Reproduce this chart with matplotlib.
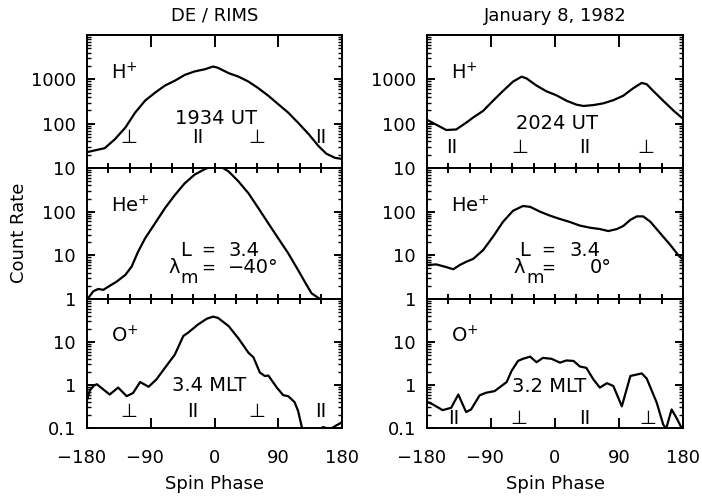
"""Spin phase distributions of H+, He+ and O+ count rates (DE / RIMS)"""

import numpy as np
import matplotlib
matplotlib.use("Agg")
import matplotlib.pyplot as plt
from matplotlib.ticker import LogLocator, NullFormatter

# H+ , 1934 UT
phase_h_l = [-179, -169, -155, -141, -126, -112, -98, -84, -70, -56, -42, -28, -13,
             -2, 5, 20, 34, 48, 62, 76, 90, 104, 118, 133, 147, 158, 170, 180]
rate_h_l = [23, 25, 28, 44, 81, 178, 331, 500, 724, 933, 1260, 1510, 1700,
            1950, 1820, 1380, 1150, 890, 630, 427, 275, 178, 105, 58, 31, 21, 17, 16]

# H+ , 2024 UT
phase_h_r = [-179, -167, -153, -139, -125, -115, -101, -87, -73, -59, -47, -40, -26,
             -12, 2, 16, 30, 40, 54, 68, 82, 96, 110, 122, 129, 138, 152, 167, 180]
rate_h_r = [120, 95, 72, 74, 105, 138, 195, 331, 550, 890, 1150, 1050, 724,
            537, 437, 331, 269, 251, 263, 288, 339, 427, 631, 832, 776, 550, 331, 195, 129]

# He+
phase_he_l = [-180, -177, -171, -164, -157, -150, -138, -126, -117, -108, -98, -84,
              -70, -56, -42, -28, -13, -6, 4, 10, 20, 34, 48, 62, 76, 90, 104, 118,
              130, 137, 147, 152, 165, 180]
rate_he_l = [1.0, 1.12, 1.51, 1.70, 1.62, 1.91, 2.51, 3.55, 5.5, 12, 24.5, 54,
             120, 240, 447, 708, 955, 1050, 1100, 1050, 832, 490, 263, 120, 54, 24.5,
             11.2, 4.6, 2.1, 1.35, 1.05, 0.98, 0.7, 0.6]

phase_he_r = [-179, -167, -155, -143, -134, -125, -115, -101, -87, -73, -59, -45, -35,
              -21, -7, 7, 21, 35, 49, 63, 75, 87, 96, 106, 115, 124, 134, 148, 162,
              174, 180]
rate_he_r = [6.0, 6.2, 5.5, 4.8, 6.0, 7.1, 8.3, 13.2, 27, 59, 105, 135, 129,
             100, 81, 68, 58, 48, 43, 40, 36, 40, 47, 65, 78, 78, 59, 32, 17.4,
             9.8, 8.1]

# O+
phase_o_l = [-180, -176, -170, -166, -157, -148, -136, -124, -115, -105, -93, -82,
             -70, -56, -44, -37, -23, -11, -2, 5, 20, 34, 48, 55, 64, 71, 76, 88,
             97, 104, 113, 118, 123, 125, 133, 140, 148, 153, 160, 166, 172, 178, 180]
rate_o_l = [0.45, 0.75, 0.98, 1.04, 0.79, 0.60, 0.87, 0.55, 0.65, 1.17, 0.91, 1.35,
            2.5, 5.1, 13.8, 16.6, 25.7, 34.7, 38.9, 36.3, 23.4, 12, 5.6, 4.4, 1.95,
            1.62, 1.66, 0.87, 0.58, 0.55, 0.40, 0.25, 0.11, 0.089, 0.07, 0.07, 0.09,
            0.105, 0.098, 0.1, 0.115, 0.13, 0.14]

phase_o_r = [-179, -172, -158, -146, -136, -125, -118, -106, -97, -85, -68, -61, -52,
             -45, -35, -26, -17, -5, 7, 16, 26, 35, 44, 54, 63, 73, 82, 94, 106, 122,
             129, 143, 152, 156, 164, 171, 178, 180]
rate_o_r = [0.40, 0.355, 0.26, 0.295, 0.60, 0.235, 0.27, 0.575, 0.66, 0.72, 1.17,
            2.14, 3.63, 4.07, 4.57, 3.39, 4.27, 4.07, 3.31, 3.72, 3.63, 2.69, 2.51,
            1.35, 0.87, 1.10, 0.95, 0.32, 1.62, 1.86, 1.41, 0.39, 0.123, 0.093, 0.27,
            0.17, 0.10, 0.09]

# pitch angle markers (perpendicular / parallel) along spin phase
pitch_phase_tl = [-121, -24, 60, 150]
pitch_sym_tl = ["⊥", "II", "⊥", "II"]
pitch_phase_bl = [-121, -31, 60, 150]
pitch_sym_bl = ["⊥", "II", "⊥", "II"]
pitch_phase_tr = [-145, -49, 42, 128]
pitch_sym_tr = ["II", "⊥", "II", "⊥"]
pitch_phase_br = [-142, -51, 42, 130]
pitch_sym_br = ["II", "⊥", "II", "⊥"]

ion_labels = ["H$^{+}$", "He$^{+}$", "O$^{+}$"]
ut_labels = ["1934 UT", "2024 UT"]
mlt_labels = ["3.4 MLT", "3.2 MLT"]
lat_values = ["\u221240°", "0°"]
column_titles = ["DE / RIMS", "January 8, 1982"]
ylims = [(10, 1e4), (1, 1e3), (0.1, 100)]
ytick_vals = [[10, 100, 1000, 10000], [1, 10, 100, 1000], [0.1, 1, 10, 100]]
ytick_text = [["10", "100", "1000", ""], ["1", "10", "100", ""], ["0.1", "1", "10", ""]]
xtick_vals = [-180, -90, 0, 90, 180]
xtick_text = ["\u2212180\u2007", "\u221290\u2007", "0", "90", "180"]

plt.rcParams["font.family"] = ["DejaVu Sans"]

fig = plt.figure(figsize=(7.02, 4.99), dpi=100)

col_left = [87 / 702, 427 / 702]
col_width = [255 / 702, 256 / 702]
row_bottom = [0.6633, 0.4008, 0.1423]
row_height = [0.2665, 0.2625, 0.2585]

curves = [
    [(phase_h_l, rate_h_l), (phase_he_l, rate_he_l), (phase_o_l, rate_o_l)],
    [(phase_h_r, rate_h_r), (phase_he_r, rate_he_r), (phase_o_r, rate_o_r)],
]
pitch = [
    [(pitch_phase_tl, pitch_sym_tl, 0.226), (pitch_phase_bl, pitch_sym_bl, 0.13)],
    [(pitch_phase_tr, pitch_sym_tr, 0.158), (pitch_phase_br, pitch_sym_br, 0.07)],
]

lw = 1.4
for c in range(2):
    for r in range(3):
        ax = fig.add_axes([col_left[c], row_bottom[r], col_width[c], row_height[r]])
        x, y = curves[c][r]
        ax.plot(x, y, color="black", linewidth=1.6)
        ax.set_yscale("log")
        ax.set_xlim(-180, 180)
        ax.set_ylim(*ylims[r])
        for sp in ax.spines.values():
            sp.set_linewidth(lw)

        ax.set_yticks(ytick_vals[r])
        ax.set_yticklabels(ytick_text[r])
        ax.yaxis.set_minor_locator(LogLocator(base=10, subs=np.arange(2, 10), numticks=20))
        ax.yaxis.set_minor_formatter(NullFormatter())
        ax.tick_params(axis="y", which="major", direction="in", left=True, right=True,
                       length=6, width=lw, labelsize=13, pad=8)
        ax.tick_params(axis="y", which="minor", direction="in", left=True, right=True,
                       length=3, width=1.0)

        if r == 0:
            ax.set_xticks(range(-180, 181, 30))
            ax.set_xticklabels([])
            ax.tick_params(axis="x", direction="inout", length=7, width=lw,
                           top=False, bottom=True)
            sec = ax.secondary_xaxis("top")
            sec.set_xticks([-90, 0, 90])
            sec.tick_params(direction="in", length=8.5, width=lw, labeltop=False)
            sec.spines["top"].set_linewidth(lw)
        elif r == 1:
            ax.set_xticks(range(-180, 181, 30))
            ax.set_xticklabels([])
            ax.tick_params(axis="x", direction="inout", length=7, width=lw,
                           top=True, bottom=True)
        else:
            ax.set_xticks(xtick_vals)
            ax.set_xticklabels(xtick_text)
            ax.tick_params(axis="x", direction="in", length=7.5, width=lw,
                           top=False, bottom=True, labelsize=13, pad=15)
            sec = ax.secondary_xaxis("top")
            sec.set_xticks(range(-180, 181, 30))
            sec.tick_params(direction="inout", length=7, width=lw, labeltop=False)
            sec.spines["top"].set_linewidth(lw)
            ax.set_xlabel("Spin Phase", fontsize=13, labelpad=6)

        ax.text(0.094, 0.715, ion_labels[r], transform=ax.transAxes, fontsize=14,
                ha="left", va="center")

        if r == 0:
            ax.text(0.508, 0.372 if c == 0 else 0.335, ut_labels[c],
                    transform=ax.transAxes, fontsize=14, ha="center", va="center")
        if r == 2:
            ax.text(0.477, 0.333 if c == 0 else 0.318, mlt_labels[c],
                    transform=ax.transAxes, fontsize=14, ha="center", va="center")
        if r in (0, 2):
            px, sym, yy = pitch[c][0 if r == 0 else 1]
            for p, s in zip(px, sym):
                ax.text(p, yy, s, transform=ax.get_xaxis_transform(), fontsize=14,
                        ha="center", va="center")
        if r == 1:
            if c == 0:
                xl, xe, xv, xlam, xm, xval = 0.365, 0.475, 0.553, 0.318, 0.365, 0.553
            else:
                xl, xe, xv, xlam, xm, xval = 0.36, 0.475, 0.555, 0.336, 0.39, 0.637
            tr = ax.transAxes
            ax.text(xl, 0.374, "L", transform=tr, fontsize=14, ha="left", va="center")
            ax.text(xe, 0.374, "=", transform=tr, fontsize=12, ha="center", va="center")
            ax.text(xv, 0.374, "3.4", transform=tr, fontsize=14, ha="left", va="center")
            ax.text(xlam, 0.24, "λ", transform=tr, fontsize=14, ha="left", va="center")
            ax.text(xm, 0.16, "m", transform=tr, fontsize=13, ha="left", va="center")
            ax.text(xe, 0.24, "=", transform=tr, fontsize=12, ha="center", va="center")
            ax.text(xval, 0.24, lat_values[c], transform=tr, fontsize=14,
                    ha="left", va="center")

    fig.text(col_left[c] + col_width[c] / 2, 0.968, column_titles[c], fontsize=13,
             ha="center", va="center")

fig.text(0.027, 0.533, "Count Rate", rotation=90, fontsize=13, ha="center",
         va="center")

fig.savefig("out.png", dpi=100)
